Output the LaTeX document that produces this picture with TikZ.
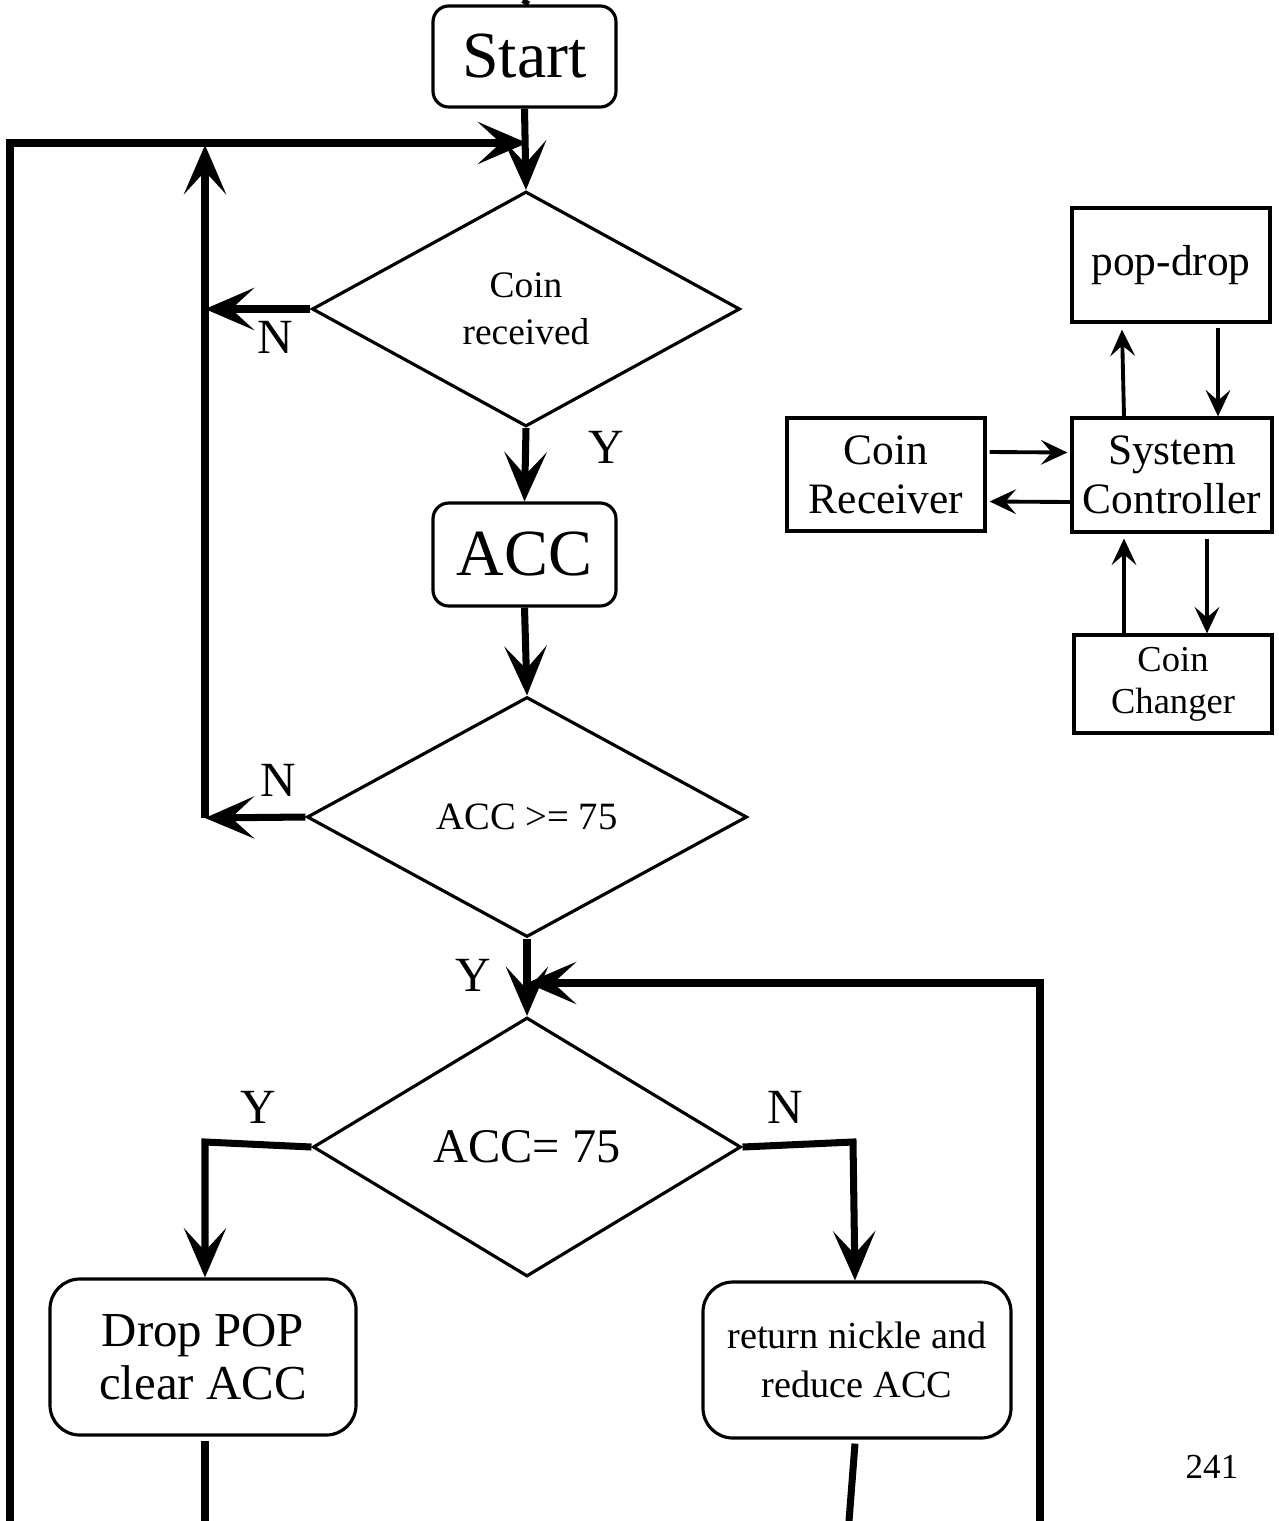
\documentclass[tikz,border=0pt]{standalone}
\usepackage{fontspec}
\setmainfont{Liberation Serif}
\usetikzlibrary{shapes.geometric,arrows.meta,calc}

\tikzset{
  flow/.style={line width=4pt,-{Stealth[length=28pt,width=24pt,inset=13pt]}},
  flowline/.style={line width=4pt},
  link/.style={line width=2.2pt,-{Stealth[length=15pt,width=14pt,inset=6pt]}},
  roundbox/.style={draw,line width=1.8pt,rounded corners=9pt,inner sep=0pt,align=center},
  plainbox/.style={draw,line width=1.8pt,inner sep=0pt,align=center},
  decision/.style={draw,diamond,aspect=2,line width=1.8pt,inner sep=0pt,align=center},
  lbl/.style={inner sep=0pt,font=\fontsize{28pt}{30pt}\selectfont}
}

\begin{document}
\begin{tikzpicture}[x=0.02cm,y=-0.02cm]
\useasboundingbox (0,0) rectangle (1278,1521);

% ---------- flowchart ----------
\node[roundbox,minimum width=183*0.02cm,minimum height=101*0.02cm,
      font=\fontsize{37.5pt}{40pt}\selectfont] (start) at (524.5,56.5) {Start};
\node[decision,minimum width=428*0.02cm,minimum height=235*0.02cm,
      font=\fontsize{21.3pt}{26.6pt}\selectfont] (d1) at (526,309) {Coin\\received};
\node[roundbox,minimum width=183*0.02cm,minimum height=103*0.02cm,
      font=\fontsize{37.5pt}{40pt}\selectfont] (acc) at (524.5,554.5) {ACC};
\node[decision,minimum width=440*0.02cm,minimum height=240*0.02cm,
      font=\fontsize{22pt}{26pt}\selectfont] (d2) at (527,817) {ACC >= 75};
\node[decision,minimum width=428*0.02cm,minimum height=259*0.02cm,
      font=\fontsize{27.5pt}{30pt}\selectfont] (d3) at (527,1147) {ACC= 75};
\node[roundbox,rounded corners=17pt,minimum width=306*0.02cm,minimum height=156*0.02cm,
      font=\fontsize{27.8pt}{30pt}\selectfont] (drop) at (203,1357) {Drop POP\\clear ACC};
\node[roundbox,rounded corners=17pt,minimum width=308*0.02cm,minimum height=156*0.02cm,
      font=\fontsize{21.8pt}{27.8pt}\selectfont] (ret) at (857,1360) {return nickle and\\reduce ACC};

% free ends and joints of the loops
\coordinate (top) at (527,0);
\coordinate (joinA) at (527,143);
\coordinate (outbot) at (10,1521);
\coordinate (inbot) at (205,818);
\coordinate (inmid) at (205,309);
\coordinate (intop) at (205,145);
\coordinate (joinB) at (527,983);
\coordinate (rbot) at (1040,1521);
\coordinate (ycorner) at (205,1142);
\coordinate (ncorner) at (853,1142);
\coordinate (dropbot) at (205,1521);
\coordinate (retbot) at (849,1521);

\draw[flowline] (start.north) -- (top);
\draw[flow] (start.south) -- (d1.north);
\draw[flow] (outbot) |- (joinA);
\draw[flow] (d1.west) -- (inmid);
\draw[flow] (d2.west) -- (inbot);
\draw[flow] (inbot) -- (intop);
\draw[flow] (d1.south) -- (acc.north);
\draw[flow] (acc.south) -- (d2.north);
\draw[flow] (d2.south) -- (d3.north);
\draw[flow] (rbot) |- (joinB);
\draw[flow] (d3.west) -- (ycorner) -- ($(drop.north)+(2,0)$);
\draw[flow] (d3.east) -- (ncorner) -- ($(ret.north)+(-2,0)$);
\draw[flowline] ($(drop.south)+(2,4)$) -- (dropbot);
\draw[flowline] ($(ret.south)+(-2,4)$) -- (retbot);

% branch labels
\node[lbl] (n1) at (275,337) {N};
\node[lbl] (y1) at (606,447) {Y};
\node[lbl] (n2) at (278,780) {N};
\node[lbl] (y2) at (473,975) {Y};
\node[lbl] (y3) at (258,1107) {Y};
\node[lbl] (n3) at (785,1107) {N};
\node[inner sep=0pt,font=\fontsize{20pt}{22pt}\selectfont] (page) at (1212,1467) {241};

% ---------- block diagram ----------
\node[plainbox,minimum width=198*0.02cm,minimum height=114*0.02cm,
      font=\fontsize{24.7pt}{27.8pt}\selectfont] (pd) at (1171,265) {pop-drop};
\node[plainbox,minimum width=200*0.02cm,minimum height=114*0.02cm,
      font=\fontsize{24.7pt}{27.8pt}\selectfont] (sc) at (1172,475) {System\\Controller};
\node[plainbox,minimum width=198*0.02cm,minimum height=113*0.02cm,
      font=\fontsize{24.7pt}{27.8pt}\selectfont] (cr) at (886,474.5) {Coin\\Receiver};
\node[plainbox,minimum width=198*0.02cm,minimum height=98*0.02cm,
      font=\fontsize{20.8pt}{23.8pt}\selectfont] (cc) at (1173,684) {Coin\\Changer};

\draw[link] ($(sc.north)+(-48,0)$) -- ($(pd.south)+(-49,6)$);
\draw[link] ($(pd.south)+(47,4)$) -- ($(sc.north)+(46,0)$);
\draw[link] ($(cr.east)+(3,-22.5)$) -- ($(sc.west)+(-3,-22.5)$);
\draw[link] ($(sc.west)+(0,27)$) -- ($(cr.east)+(3,27)$);
\draw[link] ($(sc.south)+(35,5)$) -- ($(cc.north)+(34,0)$);
\draw[link] ($(cc.north)+(-49,0)$) -- ($(sc.south)+(-48,5)$);
\end{tikzpicture}
\end{document}
